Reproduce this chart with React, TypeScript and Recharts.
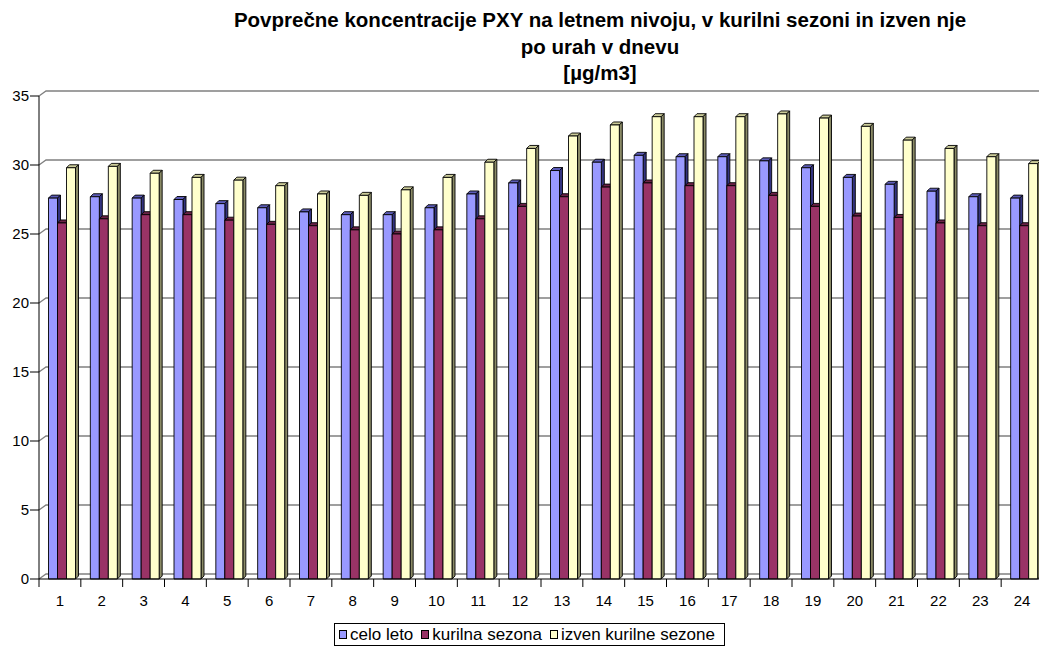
import { BarChart, Bar, XAxis, YAxis, CartesianGrid } from 'recharts';

const hours = ['1', '2', '3', '4', '5', '6', '7', '8', '9', '10', '11', '12', '13', '14', '15', '16', '17', '18', '19', '20', '21', '22', '23', '24'];
const celoLeto = [27.6, 27.7, 27.6, 27.5, 27.2, 26.9, 26.6, 26.4, 26.4, 26.9, 27.9, 28.7, 29.6, 30.2, 30.7, 30.6, 30.6, 30.3, 29.8, 29.1, 28.6, 28.1, 27.7, 27.6];
const kurilna = [25.8, 26.1, 26.4, 26.4, 26.0, 25.7, 25.6, 25.3, 25.0, 25.3, 26.1, 27.0, 27.7, 28.4, 28.7, 28.5, 28.5, 27.8, 27.0, 26.3, 26.2, 25.8, 25.6, 25.6];
const izven = [29.8, 29.9, 29.4, 29.1, 28.9, 28.5, 27.9, 27.8, 28.2, 29.1, 30.2, 31.2, 32.1, 32.9, 33.5, 33.5, 33.5, 33.7, 33.4, 32.8, 31.8, 31.2, 30.6, 30.1];
const seriesNames = ['celo leto', 'kurilna sezona', 'izven kurilne sezone'];
const yTicks = [0, 5, 10, 15, 20, 25, 30, 35];
const titleLines = [
  'Povprečne koncentracije PXY na letnem nivoju, v kurilni sezoni in izven nje',
  'po urah v dnevu',
  '[µg/m3]',
];

const data = hours.map((h, i) => ({ hour: h, celo: celoLeto[i], kur: kurilna[i], izv: izven[i] }));

// front / top / side colours for the fake 3d look
const palette = [
  { front: '#9999ff', top: '#5c5cb8', side: '#333380' },
  { front: '#993366', top: '#6b2347', side: '#4d1933' },
  { front: '#ffffcc', top: '#cccc99', side: '#8a8a66' },
];
const keys = ['celo', 'kur', 'izv'];

const FONT = 'Arial, "Liberation Sans", sans-serif';
const DEPTH = 3;
const SHIFT = 2.5;

function Box3D(props: any) {
  const { x, y, width, height, colors } = props;
  if (width == null || height == null) return null;
  const x0 = x + SHIFT;
  const d = DEPTH;
  return (
    <g stroke="#000" strokeWidth={0.9} strokeLinejoin="round">
      <polygon points={`${x0},${y} ${x0 + d},${y - d} ${x0 + width + d},${y - d} ${x0 + width},${y}`} fill={colors.top} />
      <polygon points={`${x0 + width},${y} ${x0 + width + d},${y - d} ${x0 + width + d},${y + height - d} ${x0 + width},${y + height}`} fill={colors.side} />
      <rect x={x0} y={y} width={width} height={height} fill={colors.front} />
    </g>
  );
}

function HourTick(props: any) {
  const { x, y, payload, index, width, visibleTicksCount } = props;
  const band = width / visibleTicksCount;
  const axisY = y - 16;
  return (
    <g>
      {index === 0 && <line x1={x - band / 2} y1={axisY} x2={x - band / 2} y2={axisY + 8} stroke="#000" />}
      <line x1={x + band / 2} y1={axisY} x2={x + band / 2} y2={axisY + 8} stroke="#000" />
      <text x={x} y={y} dy="0.71em" textAnchor="middle" fontSize={15} fontFamily={FONT} fill="#000">
        {payload.value}
      </text>
    </g>
  );
}

function BackGridLine(props: any) {
  const { x1, y1, x2, index } = props;
  return (
    <polyline
      key={`g-${index}`}
      points={`${x1},${y1} ${x1 + 7},${y1 - 5} ${x2 + 7},${y1 - 5}`}
      fill="none"
      stroke="#808080"
      strokeWidth={1.3}
    />
  );
}

export default function App() {
  return (
    <div style={{ position: 'absolute', left: 0, top: 0, width: 1039, height: 646, overflow: 'hidden', background: '#fff', fontFamily: FONT }}>
      <svg width={1039} height={88} style={{ position: 'absolute', left: 0, top: 0 }}>
        {titleLines.map((t, i) => (
          <text key={i} x={600} y={27 + i * 26.5} textAnchor="middle" fontSize={20.5} fontWeight="bold" fontFamily={FONT} fill="#000">
            {t}
          </text>
        ))}
      </svg>
      <div style={{ position: 'absolute', left: 0, top: 0 }}>
        <BarChart width={1043} height={646} data={data} margin={{ top: 96, right: 0, left: 0, bottom: 37 }} barGap={0} barSize={9}>
          <CartesianGrid vertical={false} horizontal={(p: any) => <BackGridLine {...p} />} />
          <XAxis
            dataKey="hour"
            interval={0}
            height={30}
            tickLine={false}
            tickSize={8}
            tickMargin={8}
            axisLine={{ stroke: '#000' }}
            tick={(p: any) => <HourTick {...p} />}
          />
          <YAxis
            domain={[0, 35]}
            ticks={yTicks}
            width={39}
            tickSize={9}
            tickMargin={1}
            axisLine={{ stroke: '#000' }}
            tickLine={{ stroke: '#000' }}
            tick={{ fill: '#000', fontSize: 15, fontFamily: FONT }}
          />
          {keys.map((k, i) => (
            <Bar
              key={k}
              dataKey={k}
              name={seriesNames[i]}
              fill={palette[i].front}
              isAnimationActive={false}
              shape={(p: any) => <Box3D {...p} colors={palette[i]} />}
            />
          ))}
        </BarChart>
      </div>
      <div
        style={{
          position: 'absolute',
          left: 334,
          top: 623,
          width: 385,
          height: 21,
          border: '1px solid #000',
          display: 'flex',
          alignItems: 'center',
          paddingLeft: 4,
          fontSize: 17,
          lineHeight: '20px',
          whiteSpace: 'nowrap',
          boxSizing: 'content-box',
        }}
      >
        {seriesNames.map((n, i) => (
          <span key={n} style={{ display: 'flex', alignItems: 'center', marginRight: 8, flexShrink: 0 }}>
            <span style={{ display: 'inline-block', width: 6, height: 7, border: '1px solid #000', background: palette[i].front, marginRight: 3 }} />
            {n}
          </span>
        ))}
      </div>
    </div>
  );
}
